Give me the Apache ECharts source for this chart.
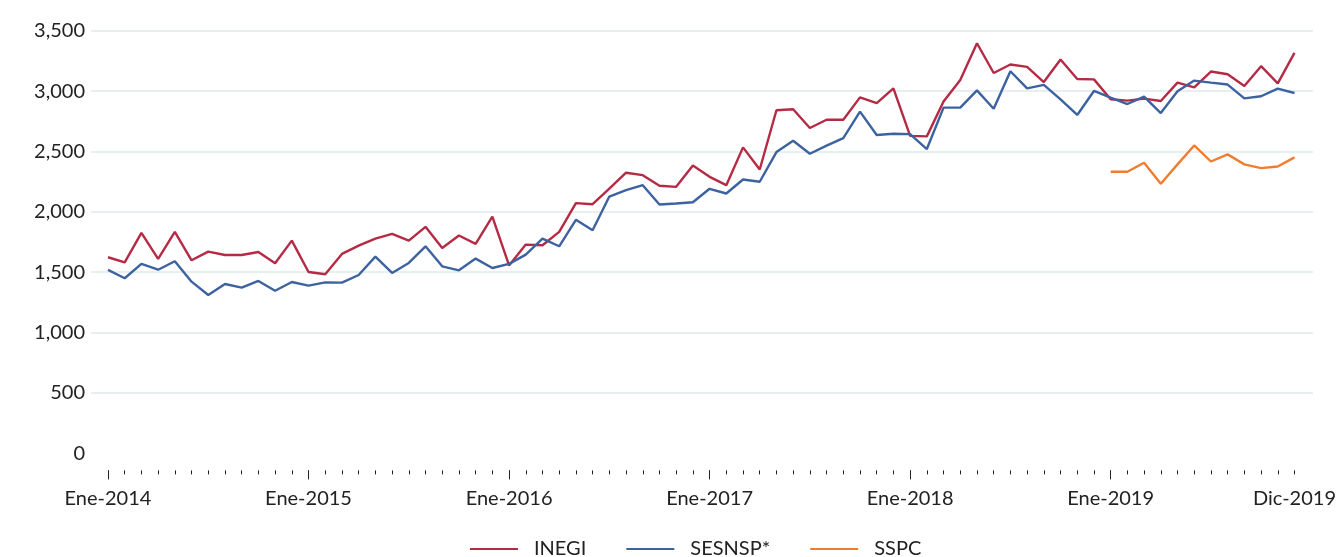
<!DOCTYPE html>
<html>
<head>
<meta charset="utf-8">
<script src="https://cdn.jsdelivr.net/npm/echarts@6/dist/echarts.min.js"></script>
<style>
  html, body { margin: 0; padding: 0; background: #fff; }
  #chart { width: 1339px; height: 557px; }
</style>
</head>
<body>
<div id="chart"></div>
<script>
// month names and years used for the category labels
var meses = ['Ene', 'Feb', 'Mar', 'Abr', 'May', 'Jun', 'Jul', 'Ago', 'Sep', 'Oct', 'Nov', 'Dic'];
var anios = [2014, 2015, 2016, 2017, 2018, 2019];

var inegi = [
  1624, 1582, 1826, 1610, 1834, 1599, 1671, 1643, 1643, 1668, 1574, 1762,
  1502, 1483, 1652, 1721, 1779, 1818, 1762, 1876, 1701, 1804, 1735, 1961,
  1556, 1729, 1723, 1834, 2072, 2063, 2193, 2324, 2304, 2216, 2207, 2384,
  2290, 2221, 2534, 2351, 2841, 2849, 2694, 2763, 2763, 2948, 2900, 3022,
  2629, 2625, 2913, 3092, 3396, 3150, 3220, 3200, 3075, 3261, 3100, 3097,
  2932, 2921, 2938, 2918, 3070, 3031, 3162, 3139, 3042, 3206, 3064, 3316
];
var sesnsp = [
  1519, 1450, 1569, 1521, 1591, 1422, 1312, 1403, 1372, 1428, 1347, 1419,
  1389, 1416, 1414, 1477, 1629, 1494, 1577, 1715, 1549, 1516, 1613, 1535,
  1569, 1646, 1779, 1715, 1934, 1848, 2127, 2180, 2221, 2061, 2069, 2080,
  2191, 2152, 2268, 2249, 2495, 2589, 2481, 2548, 2611, 2830, 2636, 2647,
  2644, 2520, 2863, 2863, 3006, 2854, 3164, 3023, 3051, 2932, 2802, 3001,
  2946, 2893, 2954, 2818, 2998, 3087, 3070, 3054, 2940, 2957, 3020, 2984
];
// SSPC only reported during 2019
var sspc = [
  null, null, null, null, null, null, null, null, null, null, null, null,
  null, null, null, null, null, null, null, null, null, null, null, null,
  null, null, null, null, null, null, null, null, null, null, null, null,
  null, null, null, null, null, null, null, null, null, null, null, null,
  null, null, null, null, null, null, null, null, null, null, null, null,
  2332, 2332, 2407, 2233, 2393, 2550, 2417, 2476, 2393, 2362, 2376, 2451
];

var categorias = [];
for (var a = 0; a < anios.length; a++) {
  for (var m = 0; m < meses.length; m++) {
    categorias.push(meses[m] + '-' + anios[a]);
  }
}
var ultimo = categorias.length - 1;

var fuente = 'Lato, "Noto Sans", sans-serif';
var grisGrid = '#e8eff1';

var myChart = echarts.init(document.getElementById('chart'));

var option = {
  animation: false,
  textStyle: { fontFamily: fuente },
  grid: [
    // wide grid only for the horizontal guide lines and y labels
    { left: 91, right: 26, top: 30.7, bottom: 103.6 },
    // data grid, inset so the first/last month sit inside the guides
    { left: 108, right: 42, top: 30.7, bottom: 103.6 }
  ],
  xAxis: [
    { type: 'value', gridIndex: 0, min: 0, max: 1, show: false },
    {
      type: 'category',
      gridIndex: 1,
      position: 'bottom',
      offset: 17,
      boundaryGap: false,
      data: categorias,
      axisLine: { show: false, onZero: false },
      axisTick: {
        show: true,
        interval: 0,
        length: 4,
        lineStyle: { color: '#222', width: 1 }
      },
      axisLabel: {
        color: '#222',
        fontSize: 20,
        fontFamily: fuente,
        margin: 18,
        interval: function (idx) { return idx % 12 === 0 || idx === ultimo; }
      },
      splitLine: { show: false }
    },
    {
      type: 'category',
      gridIndex: 1,
      position: 'bottom',
      offset: 17,
      boundaryGap: false,
      data: categorias,
      axisLine: { show: false, onZero: false },
      axisTick: {
        show: true,
        interval: function (idx) { return idx % 12 === 0; },
        length: 9,
        lineStyle: { color: '#222', width: 1 }
      },
      axisLabel: { show: false },
      splitLine: { show: false }
    }
  ],
  yAxis: [
    {
      type: 'value',
      gridIndex: 0,
      min: 0,
      max: 3500,
      interval: 500,
      axisLine: { show: false },
      axisTick: { show: false },
      axisLabel: {
        color: '#222',
        fontSize: 20,
        fontFamily: fuente,
        margin: 6,
        formatter: function (v) { return v.toLocaleString('en-US'); }
      },
      splitLine: {
        show: true,
        lineStyle: {
          width: 2,
          color: ['rgba(0,0,0,0)', grisGrid, grisGrid, grisGrid, grisGrid, grisGrid, grisGrid, grisGrid]
        }
      }
    },
    {
      type: 'value',
      gridIndex: 1,
      min: 0,
      max: 3500,
      interval: 500,
      show: false,
      splitLine: { show: false }
    }
  ],
  legend: {
    left: 470,
    top: 539,
    padding: 0,
    icon: 'rect',
    itemWidth: 48,
    itemHeight: 2.2,
    itemGap: 40,
    textStyle: { color: '#222', fontSize: 20, fontFamily: fuente, padding: [0, 0, 0, 11] },
    data: ['INEGI', 'SESNSP*', 'SSPC']
  },
  series: [
    {
      name: 'INEGI',
      type: 'line',
      xAxisIndex: 1,
      yAxisIndex: 1,
      data: inegi,
      symbol: 'none',
      color: '#b52a44',
      lineStyle: { width: 2.4, color: '#b52a44' }
    },
    {
      name: 'SESNSP*',
      type: 'line',
      xAxisIndex: 1,
      yAxisIndex: 1,
      data: sesnsp,
      symbol: 'none',
      color: '#3c62a0',
      lineStyle: { width: 2.4, color: '#3c62a0' }
    },
    {
      name: 'SSPC',
      type: 'line',
      xAxisIndex: 1,
      yAxisIndex: 1,
      data: sspc,
      symbol: 'none',
      color: '#ee7d31',
      lineStyle: { width: 2.4, color: '#ee7d31' }
    }
  ]
};

myChart.setOption(option);
window.addEventListener('resize', myChart.resize);
</script>
</body>
</html>
